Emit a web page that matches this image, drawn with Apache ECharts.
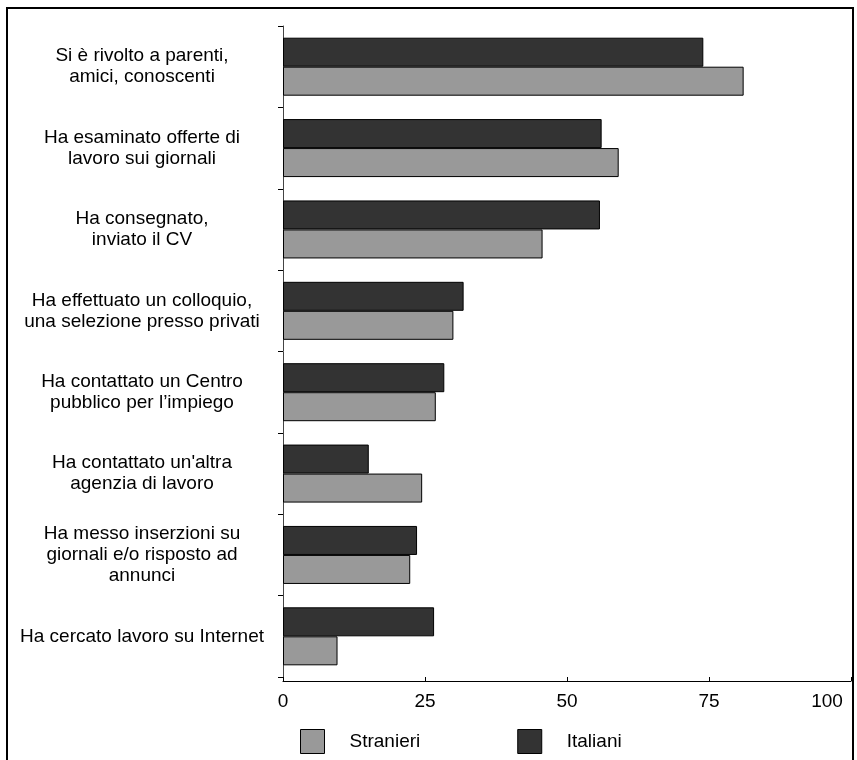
<!DOCTYPE html>
<html>
<head>
<meta charset="utf-8">
<script src="https://cdn.jsdelivr.net/npm/echarts@6/dist/echarts.min.js"></script>
<style>
html,body{margin:0;padding:0;background:#fff;}
#chart{width:857px;height:760px;}
</style>
</head>
<body>
<div id="chart"></div>
<script>
const categories = [
  "Si è rivolto a parenti,\namici, conoscenti",
  "Ha esaminato offerte di\nlavoro sui giornali",
  "Ha consegnato,\ninviato il CV",
  "Ha effettuato un colloquio,\nuna selezione presso privati",
  "Ha contattato un Centro\npubblico per l’impiego",
  "Ha contattato un'altra\nagenzia di lavoro",
  "Ha messo inserzioni su\ngiornali e/o risposto ad\nannunci",
  "Ha cercato lavoro su Internet"
];
const italiani  = [74.0, 56.1, 55.8, 31.8, 28.4, 15.1, 23.6, 26.6];
const stranieri = [81.1, 59.1, 45.7, 30.0, 26.9, 24.5, 22.4, 9.6];
const xTicks = [0, 25, 50, 75, 100];

const chart = echarts.init(document.getElementById('chart'), null, {renderer: 'canvas'});
const font = 'Liberation Sans, Arial, sans-serif';
chart.setOption({
  animation: false,
  backgroundColor: '#fff',
  textStyle: {fontFamily: font, color: '#000'},
  graphic: [{
    type: 'rect', silent: true, z: 100,
    shape: {x: 7, y: 8, width: 846, height: 760},
    style: {fill: 'none', stroke: '#000', lineWidth: 2}
  }],
  legend: {
    data: ['Stranieri', 'Italiani'],
    left: 295, top: 724,
    itemWidth: 24, itemHeight: 24, itemGap: 97,
    icon: 'rect',
    itemStyle: {borderColor: '#000', borderWidth: 1},
    textStyle: {fontFamily: font, fontSize: 19, color: '#000', padding: [0, 0, 0, 20]}
  },
  grid: {left: 283, right: 6, top: 26, bottom: 83, containLabel: false, outerBoundsMode: 'none'},
  xAxis: {
    type: 'value', min: xTicks[0], max: xTicks[xTicks.length - 1], interval: 25,
    offset: 4,
    axisLine: {show: true, lineStyle: {color: '#000', width: 1}},
    axisTick: {show: true, inside: true, length: 4, lineStyle: {color: '#000'}},
    splitLine: {show: false},
    axisLabel: {
      fontFamily: font, fontSize: 19, color: '#000', margin: 11,
      formatter: function (v) { return v === 100 ? '{r|100}' : String(v); },
      rich: {r: {fontFamily: font, fontSize: 19, color: '#000', padding: [0, 48, 0, 0]}}
    }
  },
  yAxis: {
    type: 'category', data: categories, inverse: true,
    axisLine: {show: true, lineStyle: {color: '#444', width: 1}},
    axisTick: {show: true, length: 5, lineStyle: {color: '#000'}},
    axisLabel: {
      fontFamily: font, fontSize: 19, color: '#000', lineHeight: 21,
      align: 'center', margin: 141
    }
  },
  series: [
    {
      name: 'Italiani', type: 'bar', data: italiani,
      barWidth: 29, barGap: '0%',
      itemStyle: {color: '#333333', borderColor: '#000', borderWidth: 1}
    },
    {
      name: 'Stranieri', type: 'bar', data: stranieri,
      barWidth: 29, barGap: '0%',
      itemStyle: {color: '#999999', borderColor: '#000', borderWidth: 1}
    }
  ]
});
</script>
</body>
</html>
